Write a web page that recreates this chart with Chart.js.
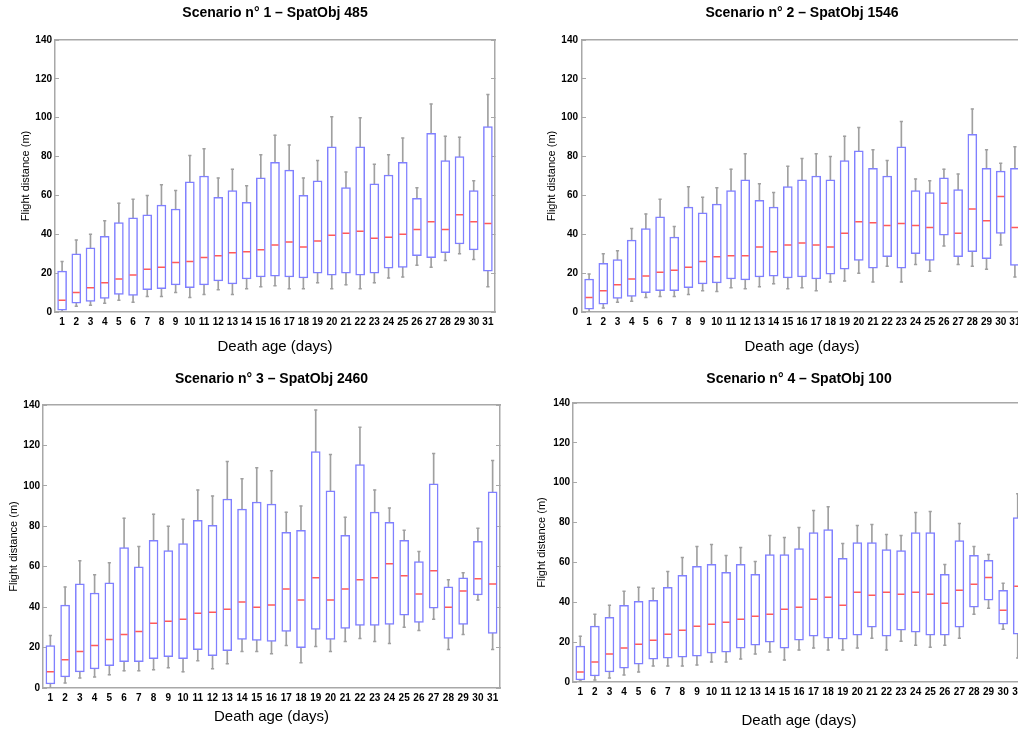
<!DOCTYPE html>
<html>
<head>
<meta charset="utf-8">
<script src="https://cdn.jsdelivr.net/npm/chart.js@4.4.1/dist/chart.umd.min.js"></script>
<style>
  html, body { margin: 0; padding: 0; background: #fff; overflow: hidden; width: 1018px; height: 731px; }
  canvas { position: absolute; }
</style>
</head>
<body>
<canvas id="c1" width="505" height="360" style="left:0px;top:0px"></canvas>
<canvas id="c2" width="505" height="360" style="left:527px;top:0px"></canvas>
<canvas id="c3" width="510" height="366" style="left:0px;top:365px"></canvas>
<canvas id="c4" width="512" height="368" style="left:523px;top:363px"></canvas>
<script>
// death age categories (days)
const days = ['1','2','3','4','5','6','7','8','9','10','11','12','13','14','15','16',
  '17','18','19','20','21','22','23','24','25','26','27','28','29','30','31'];
const yMin = 0, yMax = 140, yStep = 20;

// Scenario 1 - SpatObj 485
const s1Max = [26,37,40,47,56,58,60,65.5,62.5,80.5,84,69,73.5,65,81,91,86,69,78,100.5,72,100,76,81,89.5,64,107,90.5,90,67.5,112];
const s1Q3  = [21,30,33,39,46,48.5,50,55,53,67,70,59,62.5,56.5,69,77,73,60,67.5,85,64,85,66,70.5,77,58.5,92,78,80,62.5,95.5];
const s1Med = [6,10,12.5,15,17,19,22,23,25.5,26,28,29,30.5,31,32,34.5,36,33.5,36.5,39.5,40.5,41.5,38,38.5,40,42.5,46.5,42.5,50,46.5,45.5];
const s1Q1  = [1,4.5,5.5,7,9,8.5,11.5,12,14,12.5,14,16,14.5,17,18,18.5,18,17.5,20,19,20,19,20,22.5,23,29,28,30.5,35,32,21];
const s1Min = [0,3,3.5,4.5,6,5,8,8,10,7.5,9,11.5,9,12,13,13.5,12,12,15,12,14,12,15,17.5,18,24,23,26.5,30,27,13];

// Scenario 2 - SpatObj 1546
const s2Max = [19.5,30,31.5,43,50.5,58,44,64.5,59,64,73.5,81.5,66,61.5,75,79,81.5,80,90.5,95,83.5,78,98,68.5,67.5,73.5,71,104.5,83.5,76.5,85];
const s2Q3  = [17,25,27,37,43,49,38.5,54,51,55.5,62.5,68,57.5,54,64.5,68,70,68,78,83,74,70,85,62.5,61.5,69,63,91.5,74,72.5,74];
const s2Med = [7.5,11,14,17,18.5,20.5,21.5,23,26,28.5,29,29,33.5,31,34.5,35.5,34.5,33.5,40.5,46.5,46,44.5,45.5,44.5,43.5,56,40.5,53,47,59.5,43.5];
const s2Q1  = [1.5,4,7,8,10,11,11,12.5,14.5,15,17,16.5,18,18.5,17.5,18,17,19.5,22,26.5,22.5,28.5,22.5,30,26.5,39.5,28.5,31,27.5,40.5,24];
const s2Min = [0,2,5,5.5,7.5,8,8,9,11,10.5,12.5,12,13,14.5,12,12.5,11,15.5,16,20,15.5,23.5,15.5,24.5,21,34,24.5,23.5,22,34.5,18];

// Scenario 3 - SpatObj 2460
const s3Max = [26,50,63,56,62,84,70,86,80,83.5,98,95,112,103.5,109,107.5,87,90,137.5,115.5,84.5,129,98,89,78,67.5,116,53.5,57,79,112.5];
const s3Q3  = [21,41,51.5,47,52,69.5,60,73,68,71.5,83,80.5,93.5,88.5,92,91,77,78,117,97.5,75.5,110.5,87,82,73,62.5,101,50,54.5,72.5,97];
const s3Med = [8,14,18,21,24,26.5,28,32,33,34,37,37.5,39,42.5,40,41,49,43.5,54.5,43.5,49,53.5,54.5,61.5,55.5,46.5,58,40,48,54,51.5];
const s3Q1  = [2,5.5,8,9.5,11,13,13,14.5,15.5,14.5,19,16,18.5,24,23.5,23,28,20,29,24,29.5,31,31,31.5,36,32.5,39.5,24.5,31.5,46,27];
const s3Min = [0,2.5,5,5.5,6.5,8.5,8.5,9,10,8,13.5,9.5,12,18,18,17,21,12.5,20.5,18,23,24.5,23,22,30,28.5,34,19,26.5,43.5,19];

// Scenario 4 - SpatObj 100
const s4Max = [23,34,38.5,45.5,47.5,47,55.5,62.5,68,69,63.5,67.5,60.5,73.5,72.5,77.5,86,88,69.5,78.5,79,74,73.5,85,85.5,59,79.5,68,64,49.5,94.5];
const s4Q3  = [18,28,32.5,38.5,40.5,41,47.5,53.5,58,59,55,59,54,64,64,67,75,76.5,62,70,70,66.5,66,75,75,54,71,63.5,61,46,82.5];
const s4Med = [5,10,14,17,19,21,24,26,28,29,30,31.5,33,34,36.5,37.5,41.5,42.5,38.5,45,43.5,45,44,45,44,39.5,46,49,52.5,36,48];
const s4Q1  = [1,3,5,7,9,11.5,12,12.5,13,14.5,15,17,18.5,20,17,21,23,22,21.5,23.5,27.5,23,26,25,23.5,23.5,27.5,37.5,41,29,24];
const s4Min = [0.5,1,2,3.5,5,8,8,8,8.5,10,10,11.5,14,15,11,16,17,16,16,17,22,16,20.5,18.5,17.5,18.5,22,34,37,26.5,12];

const BLUE = '#8080ff';
const RED = '#ff5a5a';
const GRAY = '#a0a0a0';
const FRAME = '#a8a8a8';

Chart.defaults.font.family = '"Liberation Sans", Arial, sans-serif';
Chart.defaults.color = '#000';

function boxChart(id, title, mx, q3, med, q1, mn, lay) {
  const whisk = days.map((d, i) => [mn[i], mx[i]]);
  const box = days.map((d, i) => [q1[i], q3[i]]);
  const capLine = {type: 'line', showLine: false, pointStyle: 'line', pointRadius: 1.6,
    borderColor: GRAY, pointBorderColor: GRAY, pointBorderWidth: 1.5, order: 0};
  return new Chart(document.getElementById(id), {
    type: 'bar',
    data: {
      labels: days,
      datasets: [
        {type: 'line', data: med, showLine: false, pointStyle: 'line', pointRadius: 3.5,
          borderColor: RED, pointBorderColor: RED, pointBorderWidth: 1.5, order: 0},
        Object.assign({data: mx}, capLine),
        Object.assign({data: mn}, capLine),
        {data: box, barThickness: 9, backgroundColor: '#fff', borderColor: BLUE,
          borderWidth: 1.5, borderSkipped: false, grouped: false, order: 1},
        {data: whisk, barThickness: 1, backgroundColor: GRAY, borderWidth: 0, grouped: false, order: 2}
      ]
    },
    options: {
      responsive: false,
      animation: false,
      events: [],
      layout: {padding: 0},
      plugins: {legend: {display: false}, tooltip: {enabled: false}},
      scales: {
        x: {
          grid: {drawOnChartArea: false, drawTicks: false},
          border: {color: FRAME, width: 1.5},
          ticks: {font: {size: 10, weight: 'bold'}, padding: lay.xPad, autoSkip: false, maxRotation: 0},
          title: {display: true, text: 'Death age (days)', font: {size: 15}, padding: {top: 0, bottom: lay.xtPad}},
          afterFit: s => { s.height = lay.xH; }
        },
        x2: {
          position: 'top',
          grid: {drawOnChartArea: false, drawTicks: false},
          border: {color: FRAME, width: 1.5},
          ticks: {display: false},
          title: {display: true, text: title, font: {size: 14, weight: 'bold'}, padding: {top: lay.tPad, bottom: 0}},
          afterFit: s => { s.height = lay.topH; }
        },
        y: {
          min: yMin, max: yMax,
          grid: {drawOnChartArea: false, tickLength: -4, color: FRAME},
          border: {color: FRAME, width: 1.5},
          ticks: {stepSize: yStep, font: {size: 10, weight: 'bold'}, padding: lay.yPad},
          title: {display: true, text: 'Flight distance (m)', font: {size: 11}, padding: {top: lay.ytPad, bottom: 0}},
          afterFit: s => { s.width = lay.yW; }
        },
        y2: {
          position: 'right',
          min: yMin, max: yMax,
          grid: {drawOnChartArea: false, tickLength: -4, color: FRAME},
          border: {color: FRAME, width: 1.5},
          ticks: {stepSize: yStep, display: false},
          afterFit: s => { s.width = 10; }
        }
      }
    }
  });
}

boxChart('c1', 'Scenario n° 1 – SpatObj 485', s1Max, s1Q3, s1Med, s1Q1, s1Min,
  {yW: 55, topH: 40, xH: 48, tPad: 5, xPad: 4.5, xtPad: 4, yPad: 7, ytPad: 19});
boxChart('c2', 'Scenario n° 2 – SpatObj 1546', s2Max, s2Q3, s2Med, s2Q1, s2Min,
  {yW: 55, topH: 40, xH: 48, tPad: 5, xPad: 4.5, xtPad: 4, yPad: 8, ytPad: 18});
boxChart('c3', 'Scenario n° 3 – SpatObj 2460', s3Max, s3Q3, s3Med, s3Q1, s3Min,
  {yW: 43, topH: 40, xH: 43, tPad: 6, xPad: 4.5, xtPad: 5, yPad: 7, ytPad: 7.4});
boxChart('c4', 'Scenario n° 4 – SpatObj 100', s4Max, s4Q3, s4Med, s4Q1, s4Min,
  {yW: 50, topH: 40, xH: 49, tPad: 8, xPad: 4.5, xtPad: 1, yPad: 7, ytPad: 12.4});
</script>
</body>
</html>
